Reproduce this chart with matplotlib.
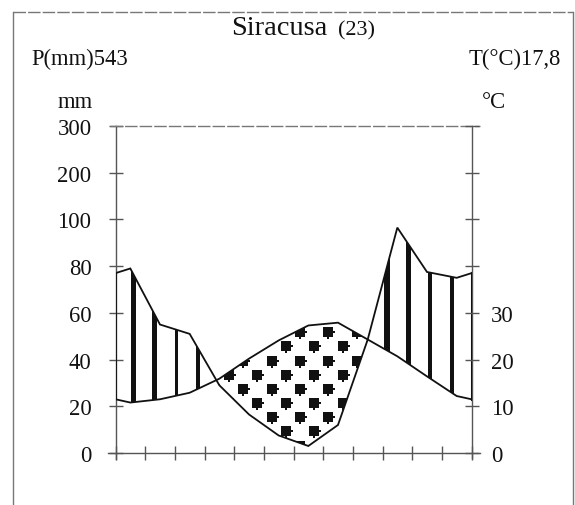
import numpy as np
import matplotlib
matplotlib.use("Agg")
import matplotlib.pyplot as plt
from matplotlib.path import Path
from matplotlib.patches import Rectangle
from matplotlib.lines import Line2D

# ---- data ----
months = ["G", "F", "M", "A", "M", "G", "L", "A", "S", "O", "N", "D"]
precip_mm = [79, 55, 51, 29, 16.5, 7.5, 3, 12, 48.5, 96.5, 77.5, 75]
temp_c = [10.8, 11.5, 12.9, 15.9, 20.2, 24.1, 27.3, 27.9, 24.3, 20.7, 16.4, 12.2]
left_ticks = [0, 20, 40, 60, 80, 100, 200, 300]
right_ticks = [0, 10, 20, 30]
station = "Siracusa"
station_no = "(23)"
p_total = "P(mm)543"
t_mean = "T(°C)17,8"

plt.rcParams['font.family'] = ['Liberation Serif', 'DejaVu Serif']
W, H = 575, 506
fig = plt.figure(figsize=(W / 100, H / 100), dpi=100)

def fx(px):
    return px / W

def fy(py):
    return 1 - py / H

axL, axR, axT, axB = 115.5, 471.5, 127.0, 454.0
ax = fig.add_axes([fx(axL), fy(axB), fx(axR) - fx(axL), fy(axT) - fy(axB)])
ax.set_xlim(0, 12)
ax.set_ylim(0, 140)

# y positions on the (compressed) precipitation scale
def ypos(v):
    v = np.asarray(v, dtype=float)
    return np.where(v <= 100, v, 100 + (v - 100) / 100 * 20)

n = len(months)
xm = np.arange(n) + 0.5
p_edge = (precip_mm[0] + precip_mm[-1]) / 2
t_edge = (temp_c[0] + temp_c[-1]) / 2
x = np.concatenate([[0], xm, [12]])
p = ypos(np.concatenate([[p_edge], precip_mm, [p_edge]]))
t = np.concatenate([[t_edge], temp_c, [t_edge]]) * 2.0

# fine grid for fills
xf = np.linspace(0, 12, 2401)
pf = np.interp(xf, x, p)
tf = np.interp(xf, x, t)

humid = ax.fill_between(xf, tf, pf, where=pf >= tf, interpolate=True,
                        facecolor='none', edgecolor='none')
arid = ax.fill_between(xf, pf, tf, where=tf >= pf, interpolate=True,
                       facecolor='none', edgecolor='none')
humid_path = Path.make_compound_path(*humid.get_paths())
arid_path = Path.make_compound_path(*arid.get_paths())

# vertical hatch bars in humid periods
pxm = (axR - axL) / 12.0
bars = list(np.arange(0.60, 3.4, 0.725)) + list(np.arange(9.14, 12.2, 0.735))
widths = [5.3, 5.0, 3.6, 3.4] + [6.0, 5.7, 4.4, 4.0, 2.6]
for xb, wpx in zip(bars, widths):
    r = Rectangle((xb - wpx / pxm / 2, 0), wpx / pxm, 140, facecolor='#111111',
                  edgecolor='none', zorder=2)
    ax.add_patch(r)
    r.set_clip_path(humid_path, ax.transData)

# dotted pattern (squares with small nubs) in arid period
mk = Path([(-1, -1), (-0.12, -1), (-0.12, -1.25), (0.18, -1.25), (0.18, -1),
           (1, -1), (1, -0.15), (1.25, -0.15), (1.25, 0.15), (1, 0.15),
           (1, 1), (-1, 1), (-1, -1)],
          [Path.MOVETO] + [Path.LINETO] * 11 + [Path.CLOSEPOLY])
dx = 14.17 / pxm
dy = 14.17 / ((axB - axT) / 140.0)
x0, y0 = (300 - axL) / pxm, (axB - 333.3) / ((axB - axT) / 140.0)
pts = []
for i in range(-30, 30):
    for j in range(-12, 12):
        if (i + j) % 2 == 0:
            xx, yy = x0 + i * dx, y0 + j * dy
            if 0 <= xx <= 12 and 0 <= yy <= 70:
                pts.append((xx, yy))
pts = np.array(pts)
sc = ax.scatter(pts[:, 0], pts[:, 1], marker=mk, s=(7.8 * 1.25) ** 2,
                color='#111111', linewidths=0, zorder=2)
sc.set_clip_path(arid_path, ax.transData)

# curves
ax.plot(x, p, color='#111111', lw=1.3, zorder=3, solid_joinstyle='miter')
ax.plot(x, t, color='#111111', lw=1.3, zorder=3, solid_joinstyle='miter')
ax.plot([0, 0], [p[0], t[0]], color='#111111', lw=1.3, zorder=3)
ax.plot([12, 12], [p[-1], t[-1]], color='#111111', lw=2.2, zorder=3)

# axes frame
for s in ax.spines.values():
    s.set_visible(False)
ac = '#555555'
lw = 1.0
ax.add_line(Line2D([0, 0], [-2.6, 140], color=ac, lw=lw, clip_on=False))
ax.add_line(Line2D([12, 12], [-2.0, 140], color=ac, lw=lw, clip_on=False))
ax.add_line(Line2D([-0.25, 12.27], [0, 0], color=ac, lw=lw, clip_on=False))
ax.add_line(Line2D([-0.19, 12.3], [140, 140], color='#777777', lw=lw,
                   clip_on=False, ls=(0, (9, 1.5))))

ypt = list(ypos(left_ticks))
ax.set_xticks(np.arange(0, 13))
ax.set_xticklabels([])
ax.set_yticks(ypt)
ax.set_yticklabels([str(v) for v in left_ticks])
ax.tick_params(axis='both', direction='inout', length=9.4, width=1.0, color=ac)
ax.tick_params(axis='y', pad=12.6, labelsize=16.3, labelcolor='#111111')
ax.tick_params(axis='x', pad=2)

ax2 = ax.twinx()
ax2.set_ylim(0, 140)
for s in ax2.spines.values():
    s.set_visible(False)
ax2.set_yticks(ypt)
ax2.set_yticklabels([str(v) for v in right_ticks] + [''] * (len(ypt) - len(right_ticks)))
ax2.tick_params(axis='y', direction='inout', length=9.4, width=1.0, color=ac,
                pad=9.5, labelsize=16.3, labelcolor='#111111')

# texts
tc = '#111111'
fig.text(fx(231), fy(35), station, fontsize=20.5, ha='left', va='baseline', color=tc)
fig.text(fx(337.6), fy(35), station_no, fontsize=16, ha='left', va='baseline', color=tc)
fig.text(fx(31.7), fy(65), p_total, fontsize=16.3, ha='left', va='baseline', color=tc)
fig.text(fx(561), fy(65), t_mean, fontsize=16.3, ha='right', va='baseline', color=tc)
fig.text(fx(58), fy(108), "mm", fontsize=16.3, ha='left', va='baseline', color=tc)
fig.text(fx(481.7), fy(108), "°C", fontsize=16.3, ha='left', va='baseline', color=tc)

# outer frame
fig.add_artist(Line2D([fx(12.7), fx(12.7)], [fy(12.7), -0.1], color='#777777', lw=1.0))
fig.add_artist(Line2D([fx(573.3), fx(573.3)], [fy(12.7), -0.1], color='#777777', lw=1.0))
fig.add_artist(Line2D([fx(12.7), fx(573.3)], [fy(12.7), fy(12.7)], color='#777777', lw=1.0,
                      ls=(0, (9, 1.5))))

fig.savefig("out.png", dpi=100)
